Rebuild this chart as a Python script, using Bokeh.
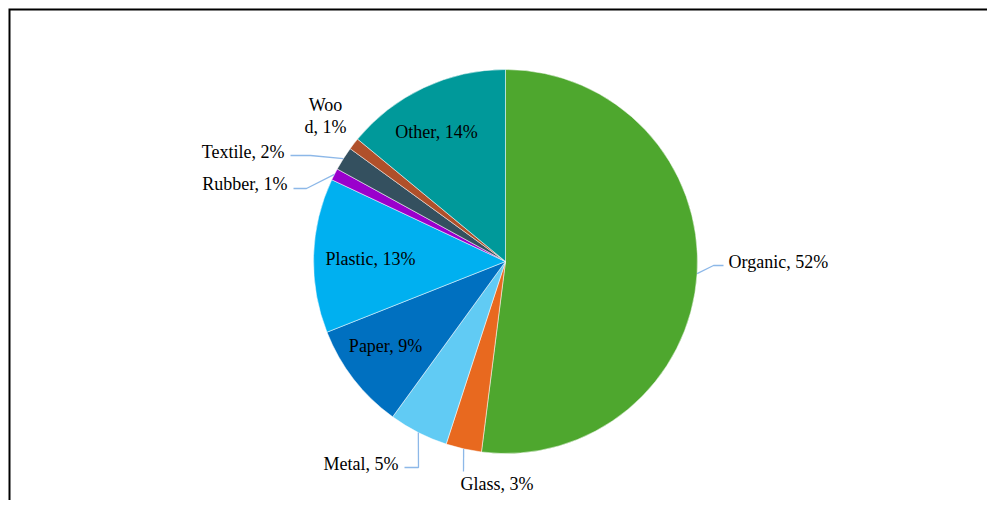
import math
from bokeh.plotting import figure
from bokeh.models import Range1d, ColumnDataSource
from bokeh.core.properties import value
from bokeh.embed import file_html
from bokeh.resources import INLINE

# ---- data ----
categories = ["Organic", "Glass", "Metal", "Paper", "Plastic", "Rubber", "Textile", "Wood", "Other"]
shares = [52, 3, 5, 9, 13, 1, 2, 1, 14]
colors = ["#4EA72E", "#E8691F", "#61CBF4", "#0070C0", "#00B0F0", "#9A00CC", "#34505F", "#B0502A", "#00999A"]

W, H = 987, 500
FONT = value("Liberation Serif")


def xs(px):  # screen px -> data x
    return px


def ys(py):  # screen py -> data y
    return H - py


cx, cy, R = xs(505), ys(261), 192

p = figure(width=W, height=H, output_backend="svg", toolbar_location=None,
           x_range=Range1d(0, W), y_range=Range1d(0, H),
           x_axis_location=None, y_axis_location=None, min_border=0)
p.grid.visible = False
p.outline_line_color = None
p.background_fill_color = "white"

total = float(sum(shares))
starts, ends, mids = [], [], []
cum = 0.0
for s in shares:
    a0 = math.pi / 2 - 2 * math.pi * cum / total
    cum += s
    a1 = math.pi / 2 - 2 * math.pi * cum / total
    starts.append(a0)
    ends.append(a1)
    mids.append((a0 + a1) / 2)

src = ColumnDataSource(dict(start=starts, end=ends, color=colors))
p.wedge(x=cx, y=cy, radius=R, start_angle="start", end_angle="end", direction="clock",
        fill_color="color", line_color="white", line_width=0.5, source=src)

labels = [f"{c}, {s}%" for c, s in zip(categories, shares)]

# label layout (screen px): (x, y, align) and elbow points for leader lines
layout = {
    "Organic": dict(pos=(728, 261), align="left", elbow=[(713, 265), (723, 265)]),
    "Glass": dict(pos=(460, 483), align="left", elbow=[(463, 471)]),
    "Metal": dict(pos=(398, 463), align="right", elbow=[(418, 467), (404, 467)]),
    "Paper": dict(pos=(385, 345), align="center", elbow=None),
    "Plastic": dict(pos=(370, 258), align="center", elbow=None),
    "Rubber": dict(pos=(287, 183), align="right", elbow=[(306, 188), (293, 188)]),
    "Textile": dict(pos=(284, 151), align="right", elbow=[(310, 155), (290, 155)]),
    "Wood": dict(pos=None, align="center", elbow=None),
    "Other": dict(pos=(436, 131), align="center", elbow=None),
}

leader_color = "#8DB8E8"
for cat, lab, m in zip(categories, labels, mids):
    lay = layout[cat]
    if lay["elbow"]:
        px = [cx + R * math.cos(m)]
        py = [cy + R * math.sin(m)]
        for ex, ey in lay["elbow"]:
            px.append(xs(ex))
            py.append(ys(ey))
        p.line(px, py, line_color=leader_color, line_width=1.3)
    if cat == "Wood":
        p.text(x=[xs(325), xs(325)], y=[ys(104), ys(126)], text=[lab[:3], lab[3:]],
               text_font=FONT, text_font_size="18px", text_color="#000000",
               text_align="center", text_baseline="middle")
    else:
        x0, y0 = lay["pos"]
        p.text(x=[xs(x0)], y=[ys(y0)], text=[lab], text_font=FONT, text_font_size="18px",
               text_color="#000000", text_align=lay["align"], text_baseline="middle")

# chart border (top and left edges visible in window)
p.line([xs(9), xs(9), W + 5], [-5, ys(9), ys(9)], line_color="black", line_width=2,
       line_join="miter")

open("out.html", "w").write(file_html(p, INLINE))
